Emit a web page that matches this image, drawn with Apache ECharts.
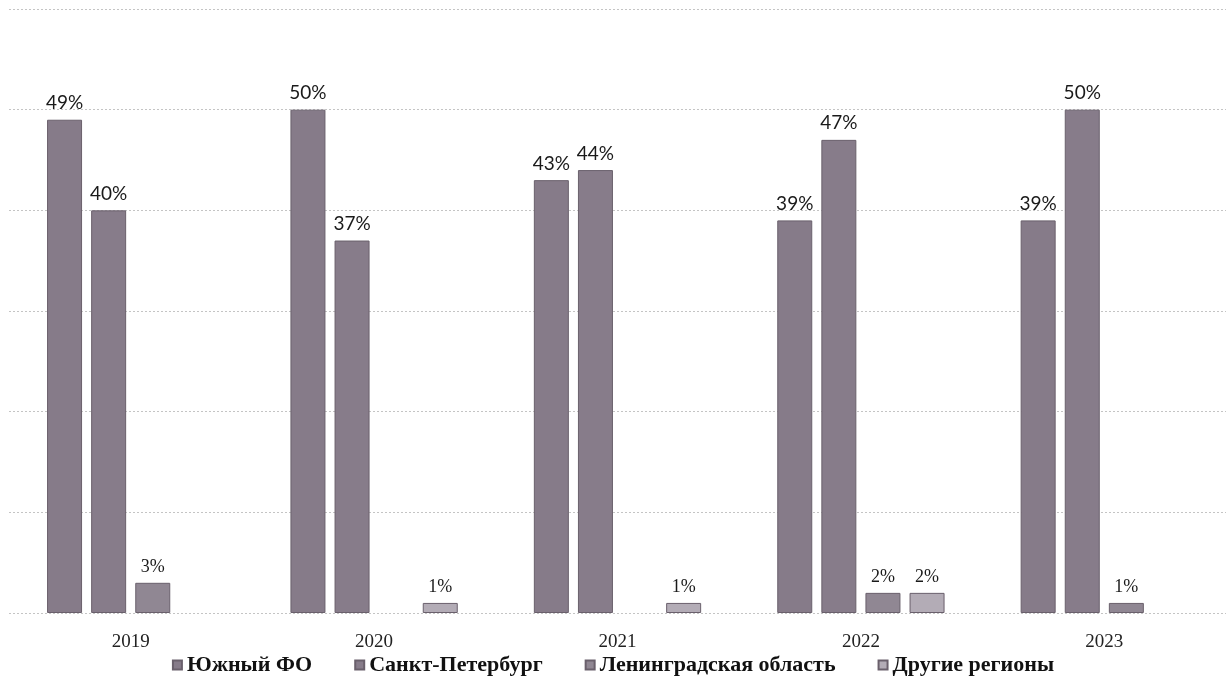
<!DOCTYPE html>
<html><head><meta charset="utf-8">
<script src="https://cdn.jsdelivr.net/npm/echarts@6/dist/echarts.min.js"></script>
<style>html,body{margin:0;padding:0;background:#fff}#c{width:1226px;height:697px}</style>
</head><body><div id="c"></div>
<script>
const categories = ['2019', '2020', '2021', '2022', '2023'];
const seriesNames = ['Южный ФО', 'Санкт-Петербург', 'Ленинградская область', 'Другие регионы'];
const southFO = [49, 50, 43, 39, 39];
const spb = [40, 37, 44, 47, 50];
const lenObl = [3, null, null, 2, 1];
const otherRegions = [null, 1, 1, 2, null];
const yTicks = [0, 10, 20, 30, 40, 50, 60];

const colors = ['#867b89', '#877c8a', '#908793', '#b3acb6'];
const values = [southFO, spb, lenObl, otherRegions];
const labelFonts = [
  {fontFamily: 'Lato', fontSize: 19},
  {fontFamily: 'Lato', fontSize: 19},
  {fontFamily: 'Liberation Serif', fontSize: 18},
  {fontFamily: 'Liberation Serif', fontSize: 18}
];

const chart = echarts.init(document.getElementById('c'), null, {renderer: 'canvas'});
chart.setOption({
  animation: false,
  backgroundColor: '#fff',
  grid: {left: 9, width: 1227, top: 9, bottom: 84, containLabel: false},
  legend: {
    data: seriesNames,
    bottom: 16,
    left: 'center',
    itemWidth: 9, itemHeight: 9, itemGap: 42,
    icon: 'rect',
    textStyle: {fontFamily: 'Liberation Serif', fontWeight: 'bold', fontSize: 22, color: '#111'}
  },
  xAxis: {
    type: 'category',
    data: categories,
    axisLine: {show: false},
    axisTick: {show: false},
    axisLabel: {fontFamily: 'Liberation Serif', fontSize: 19, color: '#222', margin: 20}
  },
  yAxis: {
    type: 'value',
    min: yTicks[0], max: yTicks[yTicks.length - 1], interval: 10,
    axisLabel: {show: false},
    axisLine: {show: false},
    axisTick: {show: false},
    splitLine: {show: true, lineStyle: {color: '#c4c4c4', width: 1, type: [2, 2]}}
  },
  series: seriesNames.map((name, i) => ({
    name: name,
    type: 'bar',
    data: values[i],
    barWidth: 35,
    barGap: '26%',
    itemStyle: {color: colors[i], borderColor: '#6a606c', borderWidth: 1},
    label: {
      show: true,
      position: 'top',
      distance: 7,
      formatter: p => p.value == null ? '' : p.value + '%',
      color: '#1a1a1a',
      fontFamily: labelFonts[i].fontFamily,
      fontSize: labelFonts[i].fontSize
    }
  }))
});
</script></body></html>
